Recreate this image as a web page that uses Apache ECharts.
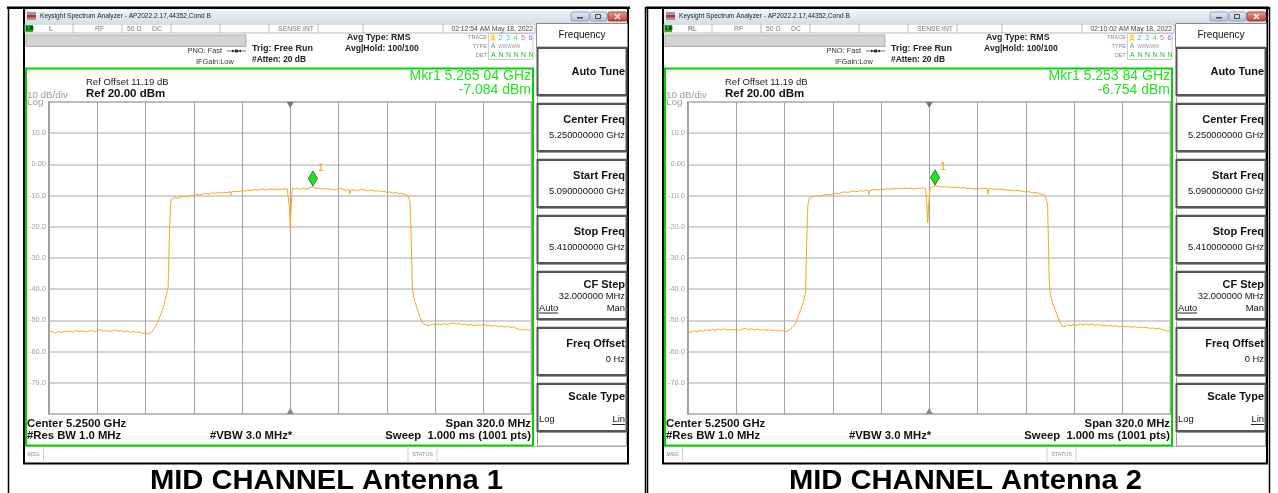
<!DOCTYPE html>
<html><head><meta charset="utf-8">
<script src="https://cdn.jsdelivr.net/npm/echarts@6/dist/echarts.min.js"></script>
<style>html,body{margin:0;padding:0;background:#fff}#c{width:1278px;height:493px}</style>
</head><body><div id="c"></div>
<script>
// ---------------- DATA ----------------
const centerMHz = 5250;
const spanMHz = 320;
const yTickLabels = ['', '10.0', '0.00', '-10.0', '-20.0', '-30.0', '-40.0', '-50.0', '-60.0', '-70.0', ''];
const panelTitles = ['MID CHANNEL Antenna 1', 'MID CHANNEL Antenna 2'];
const connLabels = ['L', 'RL'];
const timeStamps = ['02:12:54 AM May 18, 2022', '02:10:02 AM May 18, 2022'];
const markerFreqMHz = [5265.04, 5253.84];
const markerLevel = [-7.084, -6.754];
const markerFreqText = ['Mkr1 5.265 04 GHz', 'Mkr1 5.253 84 GHz'];
const markerLevelText = ['-7.084 dBm', '-6.754 dBm'];

const freqAnt1 = [5090,5092,5094,5096,5098,5100,5102,5104,5106,5108,5110,5112,5114,5116,5118,5120,5122,5124,5126,5128,5130,5132,5134,5136,5138,5140,5142,5144,5146,5148,5150,5152,5154,5156,5158,5159.5,5161,5162.5,5164,5165,5166,5167,5168,5168.5,5169,5169.5,5170,5170.5,5171,5172,5174,5176,5178,5180,5182,5184,5186,5188,5190,5192,5194,5196,5198,5200,5202,5204,5206,5208,5210,5210.5,5211,5212,5214,5216,5218,5220,5222,5224,5226,5228,5230,5232,5234,5236,5238,5240,5242,5244,5246,5248,5249,5249.5,5250,5250.5,5251,5251.5,5253,5255,5257,5259,5261,5263,5265,5267,5269,5271,5273,5275,5277,5279,5281,5283,5285,5287,5289,5289.5,5290,5292,5294,5296,5298,5300,5302,5304,5306,5308,5310,5312,5314,5316,5318,5320,5322,5324,5326,5328,5329,5329.5,5330,5330.5,5331,5331.5,5332,5333,5334,5335,5336,5337,5338,5340,5342,5344,5346,5348,5350,5352,5354,5356,5358,5360,5362,5364,5366,5368,5370,5372,5374,5376,5378,5380,5382,5384,5386,5388,5390,5392,5394,5396,5398,5400,5402,5404,5406,5408,5410];
const levelAnt1 = [-53.8,-53.5,-54.1,-53.6,-53.9,-53.3,-53.7,-53.4,-53.8,-53.2,-53.6,-53.3,-53.7,-53.5,-53.2,-53.6,-53.4,-53.0,-53.5,-53.2,-53.6,-53.3,-53.1,-53.5,-53.3,-53.7,-53.4,-53.8,-53.5,-53.9,-53.7,-54.2,-54.0,-54.4,-53.8,-52.8,-51.5,-50.0,-48.3,-47.0,-45.5,-43.5,-41.5,-40.5,-39.5,-30,-20,-14,-11.5,-10.8,-10.6,-10.9,-10.4,-10.2,-10.5,-9.9,-10.1,-9.6,-9.8,-9.5,-9.3,-9.6,-9.1,-9.3,-9.0,-9.2,-8.9,-9.1,-8.7,-10.0,-8.8,-9.0,-8.6,-8.8,-8.4,-8.6,-8.2,-8.4,-8.0,-8.3,-8.1,-7.9,-8.2,-8.0,-7.8,-8.1,-7.9,-8.0,-7.8,-7.9,-8.1,-14,-20.5,-15,-9.5,-7.6,-7.9,-7.7,-8.0,-7.6,-7.9,-7.5,-7.2,-7.8,-7.6,-7.9,-7.7,-8.0,-7.8,-8.2,-7.9,-7.6,-8.0,-8.3,-8.1,-9.5,-8.3,-8.1,-8.4,-8.2,-7.9,-8.3,-8.5,-8.2,-8.6,-8.4,-8.8,-8.6,-9.0,-8.8,-9.2,-9.0,-9.4,-9.3,-9.7,-10.0,-10.6,-12,-20,-30,-39.5,-41.5,-43,-44.5,-46,-47.5,-49,-50.2,-51.0,-51.4,-51.7,-51.2,-51.5,-51.1,-51.4,-51.0,-51.3,-51.1,-50.8,-51.2,-51.0,-51.4,-51.2,-51.5,-51.3,-51.7,-51.4,-51.6,-51.3,-51.7,-51.5,-51.8,-51.6,-52.0,-51.8,-52.1,-51.9,-52.3,-52.1,-52.6,-52.9,-53.1,-52.8,-53.2,-53.0];

const freqAnt2 = [5090,5092,5094,5096,5098,5100,5102,5104,5106,5108,5110,5112,5114,5116,5118,5120,5122,5124,5126,5128,5130,5132,5134,5136,5138,5140,5142,5144,5146,5148,5150,5152,5154,5156,5157.5,5159,5160.5,5162,5163,5164,5165,5166,5167,5168,5168.5,5169,5169.5,5170.5,5172,5174,5176,5178,5180,5182,5184,5186,5188,5190,5192,5194,5196,5198,5200,5202,5204,5206,5208,5209.5,5210,5210.5,5212,5214,5216,5218,5220,5222,5224,5226,5228,5230,5232,5234,5236,5238,5240,5242,5244,5246,5247.5,5248.3,5249,5249.6,5250.3,5251,5252,5253.8,5255,5257,5259,5261,5263,5265,5267,5269,5271,5273,5275,5277,5279,5281,5283,5285,5287,5288.5,5289,5289.5,5291,5293,5295,5297,5299,5301,5303,5305,5307,5309,5311,5313,5315,5317,5319,5321,5323,5325,5327,5328,5328.5,5329,5329.5,5330,5331,5332,5333,5334,5335,5336,5337,5338,5340,5342,5344,5346,5348,5350,5352,5354,5356,5358,5360,5362,5364,5366,5368,5370,5372,5374,5376,5378,5380,5382,5384,5386,5388,5390,5392,5394,5396,5398,5400,5402,5404,5406,5408,5410];
const levelAnt2 = [-53.5,-53.8,-53.3,-53.6,-53.2,-53.5,-53.0,-53.3,-52.9,-53.2,-52.8,-53.1,-52.7,-53.0,-52.8,-53.1,-52.9,-53.2,-52.8,-52.6,-52.9,-52.7,-53.0,-52.8,-53.1,-52.9,-53.2,-53.0,-53.3,-53.1,-53.4,-53.2,-53.6,-53.4,-53.0,-52.3,-51.5,-50.3,-48.8,-47.6,-46.2,-44.8,-43.0,-41.0,-30,-20,-13,-10.8,-10.5,-10.3,-10.0,-10.2,-9.8,-9.6,-9.8,-9.4,-9.2,-9.4,-9.0,-8.8,-9.0,-8.7,-8.5,-8.8,-8.4,-8.6,-8.3,-8.5,-9.6,-8.4,-8.2,-8.0,-8.3,-7.9,-8.1,-7.8,-8.0,-7.7,-7.9,-7.6,-7.8,-7.5,-7.8,-7.6,-7.9,-7.6,-7.8,-7.5,-7.7,-12,-18.7,-13,-8.5,-7.3,-7.0,-6.9,-7.2,-7.0,-7.3,-7.1,-7.4,-7.2,-7.5,-7.3,-7.6,-7.4,-7.8,-7.6,-7.9,-7.7,-7.9,-7.6,-7.8,-7.7,-9.6,-7.9,-7.8,-8.0,-7.8,-8.1,-7.9,-8.2,-8.4,-8.2,-8.5,-8.3,-8.6,-8.8,-8.6,-8.9,-9.1,-8.9,-9.4,-9.6,-9.9,-10.4,-13,-24,-36,-40.5,-43.2,-44.6,-46.0,-47.2,-48.5,-49.8,-50.8,-51.8,-51.9,-51.4,-51.7,-51.3,-51.6,-51.2,-51.5,-51.1,-51.4,-51.2,-51.6,-51.3,-51.7,-51.5,-51.8,-51.6,-51.9,-51.7,-52.0,-51.8,-52.1,-51.9,-52.2,-52.0,-52.3,-52.1,-52.4,-52.2,-52.6,-52.4,-52.7,-52.5,-52.9,-53.1,-53.4,-53.2];

const softkeys = [
  {label:'Auto Tune'},
  {label:'Center Freq', value:'5.250000000 GHz'},
  {label:'Start Freq', value:'5.090000000 GHz'},
  {label:'Stop Freq', value:'5.410000000 GHz'},
  {label:'CF Step', value:'32.000000 MHz', left:'Auto', right:'Man', ul:'left'},
  {label:'Freq Offset', value:'0 Hz'},
  {label:'Scale Type', left:'Log', right:'Lin', ul:'right'}
];
const traceDigits = ['1','2','3','4','5','6'];
const traceColors = ['#f0a000','#18c8e8','#20c8c0','#60d060','#f050c0','#7a70ff'];

// ---------------- DRAWING ----------------
const FF = '"Liberation Sans", Arial, sans-serif';
function T(x, y, text, size, o) {
  o = o || {};
  const el = {type:'text', x:x, y:y, silent:true, z:o.z || 10,
    style:{text:text, fill:o.color || '#222', font:(o.bold ? 'bold ' : '') + size + 'px ' + FF,
      align:o.align || 'left', textAlign:o.align || 'left', verticalAlign:'middle', textVerticalAlign:'middle'}};
  if (o.sx) el.scaleX = o.sx;
  return el;
}
function R(x, y, w, h, fill, stroke, lw, z) {
  return {type:'rect', silent:true, z:z || 5, shape:{x:x, y:y, width:w, height:h},
    style:{fill:fill || 'none', stroke:stroke || 'none', lineWidth:lw || 1}};
}
function L(x1, y1, x2, y2, stroke, lw, z) {
  return {type:'line', silent:true, z:z || 6, shape:{x1:x1, y1:y1, x2:x2, y2:y2}, style:{stroke:stroke, lineWidth:lw || 1}};
}

function panelGraphics(p, dx) {
  const g = [];
  const X = v => v + dx;
  // outer table lines
  g.push(R(X(7), 6.5, 623, 2.5, '#000', null, 1, 20));
  g.push(L(X(8.5), 7, X(8.5), 493, '#000', 1.5, 20));
  // window outline (no fill so the plot grid stays visible)
  g.push(R(X(24), 8.5, 604, 455, 'none', '#000', 2, 1));
  // title bar
  g.push({type:'rect', silent:true, z:3, shape:{x:X(25), y:9, width:602, height:14},
    style:{fill:new echarts.graphic.LinearGradient(0,0,0,1,[{offset:0,color:'#f2f6fb'},{offset:1,color:'#d3dfee'}])}});
  g.push(R(X(27), 12, 9, 8, '#9a9a9a', null, 1, 4));
  g.push(R(X(27), 15, 9, 2.5, '#d22', null, 1, 5));
  g.push(T(X(40), 16, 'Keysight Spectrum Analyzer - AP2022.2.17,44352,Cond B', 6.6, {color:'#222'}));
  // window buttons
  const btnGrad = () => new echarts.graphic.LinearGradient(0,0,0,1,[{offset:0,color:'#e6edf6'},{offset:1,color:'#b3c4dc'}]);
  g.push({type:'rect', silent:true, z:4, shape:{x:X(571), y:12, width:18, height:9, r:2}, style:{fill:btnGrad(), stroke:'#7f93b3', lineWidth:0.8}});
  g.push({type:'rect', silent:true, z:4, shape:{x:X(590), y:12, width:17, height:9, r:2}, style:{fill:btnGrad(), stroke:'#7f93b3', lineWidth:0.8}});
  g.push({type:'rect', silent:true, z:4, shape:{x:X(608), y:12, width:19, height:9, r:2},
    style:{fill:new echarts.graphic.LinearGradient(0,0,0,1,[{offset:0,color:'#e8a090'},{offset:1,color:'#c83a2a'}]), stroke:'#8a3a30', lineWidth:0.8}});
  g.push(R(X(577), 17, 6, 1.5, '#445', null, 1, 5));
  g.push(R(X(595.5), 14.5, 5, 4, 'none', '#445', 1, 5));
  g.push(L(X(615), 14, X(620), 19, '#fff', 1.3, 6));
  g.push(L(X(620), 14, X(615), 19, '#fff', 1.3, 6));
  // status row
  g.push(R(X(25), 24, 510, 9, '#fff', '#a8a8a8', 0.8, 3));
  g.push(R(X(25.5), 25, 7.5, 7, '#1fb21f', null, 1, 4));
  g.push(T(X(26.2), 28.7, 'LXI', 4.8, {color:'#000', bold:true}));
  [73,122,171,220,269,318,363,443].forEach(s => g.push(L(X(s), 24, X(s), 33, '#b0b0b0', 0.8, 4)));
  g.push(T(X(49), 28.7, p.conn, 6.8, {color:'#555'}));
  g.push(T(X(95), 28.7, 'RF', 6.8, {color:'#777'}));
  g.push(T(X(127), 28.7, '50 Ω', 6.8, {color:'#777'}));
  g.push(T(X(152), 28.7, 'DC', 6.8, {color:'#777'}));
  g.push(T(X(314), 28.7, 'SENSE:INT', 6.8, {color:'#777', align:'right'}));
  g.push(T(X(533), 28.7, p.time, 6.8, {color:'#444', align:'right'}));
  // info row
  g.push(R(X(26), 35, 220, 11.5, '#d3d3d3', '#a0a0a0', 0.8, 3));
  g.push(T(X(222), 51, 'PNO: Fast', 7.4, {color:'#333', align:'right'}));
  g.push(L(X(227), 51, X(246), 51, '#444', 0.8));
  g.push(R(X(235), 49.5, 3, 3, '#333', null, 1, 6));
  g.push({type:'polygon', silent:true, z:6, shape:{points:[[X(232),49.5],[X(235),51],[X(232),52.5]]}, style:{fill:'#333'}});
  g.push({type:'polygon', silent:true, z:6, shape:{points:[[X(241),49.5],[X(238),51],[X(241),52.5]]}, style:{fill:'#333'}});
  g.push(T(X(196), 61.5, 'IFGain:Low', 7.4, {color:'#333'}));
  g.push(T(X(252), 48.5, 'Trig: Free Run', 9, {bold:true}));
  g.push(T(X(252), 59.5, '#Atten: 20 dB', 8.4, {bold:true}));
  g.push(T(X(347), 38, 'Avg Type: RMS', 8.8, {bold:true}));
  g.push(T(X(345), 48.5, 'Avg|Hold: 100/100', 8.6, {bold:true}));
  g.push(T(X(487), 37.5, 'TRACE', 5.6, {color:'#888', align:'right'}));
  g.push(T(X(487), 46.5, 'TYPE', 5.6, {color:'#888', align:'right'}));
  g.push(T(X(487), 55.5, 'DET', 5.6, {color:'#888', align:'right'}));
  g.push(R(X(488.5), 33.5, 44.5, 26, 'none', '#b8b8b8', 0.7, 3));
  g.push(R(X(490), 34, 5.5, 7.5, '#fff0a0', null, 1, 4));
  traceDigits.forEach((d, i) => {
    const x = X(491 + i * 7.5);
    g.push(T(x, 38, d, 7.4, {color:traceColors[i]}));
    g.push(T(x, 55.5, i === 0 ? 'A' : 'N', 6.8, {color:'#22bb22'}));
  });
  g.push(T(X(491), 46.5, 'A', 6.4, {color:'#888'}));
  g.push(T(X(498.5), 46.5, 'WWWWW', 4.6, {color:'#999'}));
  // green measurement frame
  g.push(R(X(26), 68.5, 507, 377, 'none', '#00d400', 2, 8));
  g.push(T(X(86), 82, 'Ref Offset 11.19 dB', 9.5, {color:'#222'}));
  g.push(T(X(86), 94, 'Ref 20.00 dBm', 11.5, {bold:true, color:'#111'}));
  g.push(T(X(27), 95, '10 dB/div', 9.8, {color:'#9a9a9a'}));
  g.push(T(X(27), 102.5, 'Log', 9.8, {color:'#9a9a9a'}));
  g.push(T(X(531), 76, p.mkrF, 14, {color:'#22e222', align:'right'}));
  g.push(T(X(531), 90.5, p.mkrL, 14, {color:'#22e222', align:'right'}));
  g.push(T(X(27), 423.5, 'Center 5.2500 GHz', 11.3, {bold:true, color:'#111'}));
  g.push(T(X(27), 436, '#Res BW 1.0 MHz', 11.3, {bold:true, color:'#111'}));
  g.push(T(X(210), 436, '#VBW 3.0 MHz*', 11.3, {bold:true, color:'#111'}));
  g.push(T(X(531), 423.5, 'Span 320.0 MHz', 11.3, {bold:true, color:'#111', align:'right'}));
  g.push(T(X(531), 436, 'Sweep  1.000 ms (1001 pts)', 11.3, {bold:true, color:'#111', align:'right'}));
  // MSG bar
  g.push(L(X(25), 446.5, X(627), 446.5, '#b0b0b0', 0.8, 3));
  g.push(T(X(27.5), 455, 'MSG', 5.4, {color:'#888'}));
  g.push(L(X(43.5), 447, X(43.5), 463, '#c0c0c0', 0.8, 4));
  g.push(L(X(408), 447, X(408), 463, '#c0c0c0', 0.8, 4));
  g.push(L(X(437), 447, X(437), 463, '#c0c0c0', 0.8, 4));
  g.push(T(X(422.5), 455, 'STATUS', 5.4, {color:'#888', align:'center'}));
  // softkey panel
  g.push(R(X(536.5), 23.5, 91, 23.5, '#fff', '#8a8a8a', 1, 3));
  g.push(T(X(582), 35.5, 'Frequency', 10, {color:'#111', align:'center'}));
  softkeys.forEach((k, i) => {
    const top = 48 + i * 56;
    g.push(R(X(537.5), top, 89, 47, '#fff', '#555', 2, 3));
    g.push(R(X(537.5), top + 48.5, 89, i === softkeys.length - 1 ? 13.5 : 6.5, '#fff', '#9a9a9a', 1, 3));
    if (k.left) {
      g.push(T(X(625), top + 12.5, k.label, 11, {bold:true, color:'#111', align:'right'}));
      if (k.value) g.push(T(X(625), top + 24.5, k.value, 9.4, {color:'#111', align:'right'}));
      const ly = k.value ? top + 36 : top + 35.5;
      g.push(T(X(539), ly, k.left, 9.4, {color:'#111'}));
      g.push(T(X(625), ly, k.right, 9.4, {color:'#111', align:'right'}));
      if (k.ul === 'left') g.push(L(X(539), ly + 5, X(558), ly + 5, '#111', 0.9, 7));
      else g.push(L(X(612), ly + 5, X(625), ly + 5, '#111', 0.9, 7));
    } else if (k.value) {
      g.push(T(X(625), top + 15.5, k.label, 11, {bold:true, color:'#111', align:'right'}));
      g.push(T(X(625), top + 31, k.value, 9.4, {color:'#111', align:'right'}));
    } else {
      g.push(T(X(625), top + 23.5, k.label, 11, {bold:true, color:'#111', align:'right'}));
    }
  });
  // caption
  g.push(T(X(326.5), 482, p.title, 27, {bold:true, color:'#000', align:'center', sx:1.08}));
  return g;
}

const panels = [0, 1].map(i => ({conn:connLabels[i], time:timeStamps[i], mkrF:markerFreqText[i], mkrL:markerLevelText[i], title:panelTitles[i]}));
let graphics = [];
panelGraphics(panels[0], 0).forEach(e => graphics.push(e));
panelGraphics(panels[1], 639).forEach(e => graphics.push(e));
graphics.push(L(645.5, 7, 645.5, 493, '#000', 1.5, 20));
graphics.push(L(1269.5, 7, 1269.5, 493, '#000', 1.5, 20));

const traces = [[freqAnt1, levelAnt1], [freqAnt2, levelAnt2]];
const gridLefts = [49, 688];
const option = {
  animation: false,
  backgroundColor: '#fff',
  grid: gridLefts.map(l => ({left:l, top:102, width:482.5, height:312, show:true, backgroundColor:'#fff', borderColor:'#808080', borderWidth:1.5})),
  xAxis: [0, 1].map(i => ({type:'value', gridIndex:i, min:-spanMHz / 2, max:spanMHz / 2, interval:spanMHz / 10,
    axisLabel:{show:false}, axisTick:{show:false}, axisLine:{show:false},
    splitLine:{show:true, lineStyle:{color:'#a4a4a4', width:1}}})),
  yAxis: [0, 1].map(i => ({type:'value', gridIndex:i, min:-80, max:20, interval:10,
    axisLabel:{show:true, margin:3, color:'#a0a0a0', fontSize:7.5, fontFamily:'Liberation Sans',
      formatter:v => yTickLabels[Math.round((20 - v) / 10)]},
    axisTick:{show:false}, axisLine:{show:false},
    splitLine:{show:true, lineStyle:{color:'#c6c6c6', width:1.5}}})),
  series: traces.map((t, i) => ({
    type:'line', xAxisIndex:i, yAxisIndex:i, showSymbol:false, symbol:'none', z:3,
    lineStyle:{color:'#ffa41c', width:1},
    data:t[0].map((f, j) => [f - centerMHz, t[1][j]]),
    markPoint:{silent:true, animation:false, data:[
      {coord:[markerFreqMHz[i] - centerMHz, markerLevel[i]], symbol:'diamond', symbolSize:[9, 15], symbolOffset:[0, -8],
        itemStyle:{color:'#1ee61e', borderColor:'#2f5f2f', borderWidth:0.8},
        label:{show:true, formatter:'1', position:[10, -7], color:'#f5a000', fontSize:10, fontFamily:'Liberation Sans'}},
      {coord:[0, 20], symbol:'triangle', symbolRotate:180, symbolSize:[7, 6], symbolOffset:[0, 3], itemStyle:{color:'#777'}, label:{show:false}},
      {coord:[0, -80], symbol:'triangle', symbolSize:[7, 6], symbolOffset:[0, -3], itemStyle:{color:'#888'}, label:{show:false}}
    ]}
  })),
  graphic: graphics
};
const chart = echarts.init(document.getElementById('c'), null, {renderer:'canvas'});
chart.setOption(option);
</script></body></html>
